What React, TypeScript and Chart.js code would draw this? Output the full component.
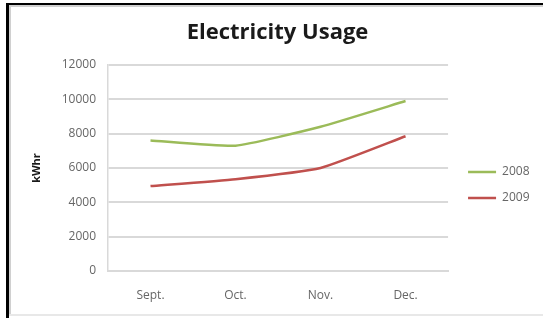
import React, { useEffect, useRef } from "react";
import { Chart, registerables } from "chart.js";

Chart.register(...registerables);

const categories = ["Sept.", "Oct.", "Nov.", "Dec."];
const series2008 = [7600, 7300, 8400, 9900];
const series2009 = [4950, 5350, 6000, 7850];
const seriesNames = ["2008", "2009"];
const yTicks = [0, 2000, 4000, 6000, 8000, 10000, 12000];

const FONT = "'Open Sans', Lato, sans-serif";
const LEGEND_DX = 6;
const LEGEND_DY = 25;

const legendNudge = {
  id: "legendNudge",
  afterLayout(chart: any) {
    const lg = chart.legend;
    if (!lg) return;
    lg.left += LEGEND_DX;
    lg.right += LEGEND_DX;
    lg.top += LEGEND_DY;
    lg.bottom += LEGEND_DY;
  },
};

export default function App() {
  const ref = useRef<HTMLCanvasElement | null>(null);

  useEffect(() => {
    if (!ref.current) return;
    const chart = new Chart(ref.current, {
      type: "line",
      data: {
        labels: categories,
        datasets: [
          {
            label: seriesNames[0],
            data: series2008,
            borderColor: "#9bbb59",
            backgroundColor: "#9bbb59",
            borderWidth: 2.5,
            pointRadius: 0,
            tension: 0.15,
          },
          {
            label: seriesNames[1],
            data: series2009,
            borderColor: "#c0504d",
            backgroundColor: "#c0504d",
            borderWidth: 2.5,
            pointRadius: 0,
            tension: 0.15,
          },
        ],
      },
      plugins: [legendNudge],
      options: {
        animation: false,
        responsive: false,
        layout: { padding: { left: 21.5, right: 9.5, top: 8, bottom: 6 } },
        plugins: {
          title: {
            display: true,
            text: "Electricity Usage",
            color: "#1a1a1a",
            font: { family: FONT, size: 22, weight: "bold" },
            padding: { top: 12, bottom: 18.6 },
          },
          legend: {
            position: "right",
            labels: {
              usePointStyle: true,
              pointStyle: "line",
              pointStyleWidth: 28,
              boxWidth: 28,
              color: "#666666",
              font: { family: FONT, size: 12 },
              padding: 14,
            },
          },
          tooltip: { enabled: false },
        },
        scales: {
          x: {
            offset: true,
            afterFit: (s: any) => {
              s.height = 41;
            },
            grid: { display: false, drawTicks: false },
            border: { display: true, color: "#d9d9d9", width: 2 },
            ticks: {
              color: "#666666",
              font: { family: FONT, size: 12 },
              padding: 17,
            },
          },
          y: {
            min: 0,
            max: 12000,
            afterFit: (s: any) => {
              s.width = 86.5;
            },
            afterBuildTicks: (s: any) => {
              s.ticks = yTicks.map((v) => ({ value: v }));
            },
            grid: { color: "#d9d9d9", lineWidth: 2, drawTicks: false },
            border: { display: true, color: "#d9d9d9", width: 1.5 },
            ticks: {
              color: "#666666",
              font: { family: FONT, size: 12 },
              padding: 12,
              callback: (v: any) => String(v),
            },
            title: {
              display: true,
              text: "kWhr",
              color: "#1a1a1a",
              font: { family: FONT, size: 11, weight: "bold" },
              padding: { top: 8.4, bottom: 0 },
            },
          },
        },
      },
    });
    return () => chart.destroy();
  }, []);

  return (
    <div
      style={{
        position: "fixed",
        left: 0,
        top: 0,
        width: 543,
        height: 318,
        background: "#ffffff",
        overflow: "hidden",
      }}
    >
      <canvas ref={ref} width={543} height={318} style={{ position: "absolute", left: 0, top: 0 }} />
      <div style={{ position: "absolute", left: 6, top: 3, width: 3, height: 315, background: "#000" }} />
      <div style={{ position: "absolute", left: 6, top: 3, width: 537, height: 2, background: "#000" }} />
      <div style={{ position: "absolute", left: 9, top: 5, width: 2, height: 310, background: "#d0d0d0" }} />
      <div style={{ position: "absolute", left: 9, top: 5, width: 534, height: 2, background: "#d0d0d0" }} />
      <div style={{ position: "absolute", left: 9, top: 314, width: 534, height: 2, background: "#e8e8e8" }} />
    </div>
  );
}
